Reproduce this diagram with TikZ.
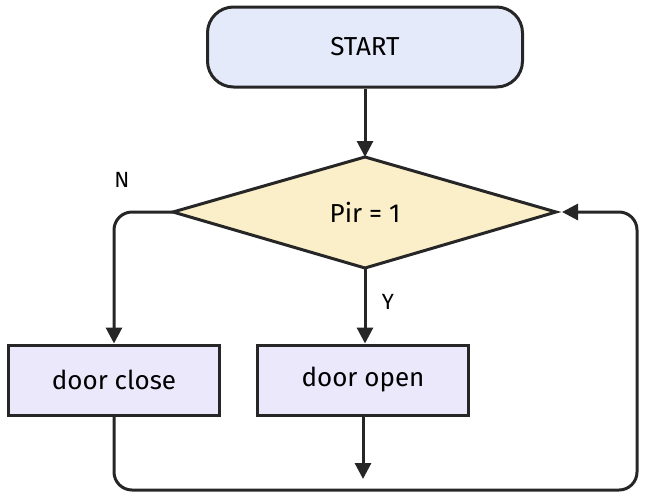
\documentclass[tikz,border=0pt]{standalone}
\usepackage{fontspec}
\setmainfont{Fira Sans}
\usetikzlibrary{shapes.geometric,arrows.meta}
\definecolor{startfill}{HTML}{E5EAFB}
\definecolor{decfill}{HTML}{FBEFC9}
\definecolor{boxfill}{HTML}{ECE8FC}
\begin{document}
\begin{tikzpicture}[x=1pt,y=-1pt,
  base/.style={draw=black!85,line width=3pt,font=\fontsize{26}{30}\selectfont,inner sep=0pt},
  term/.style={base,fill=startfill,rounded corners=26pt,minimum width=315pt,minimum height=80pt},
  proc/.style={base,fill=boxfill,minimum width=211pt,minimum height=70pt},
  conn/.style={draw=black!85,line width=3pt,rounded corners=18pt},
  arr/.style={conn,-{Triangle[length=16pt,width=16pt]}},
  lbl/.style={font=\fontsize{22}{26}\selectfont}]
\useasboundingbox (0,0) rectangle (647,496);
\node[term] (start) at (365,47) {START};
\coordinate (dl) at (173,212); \coordinate (dt) at (365,157);
\coordinate (dr) at (556,212); \coordinate (db) at (365,268);
\coordinate (drr) at (562,212);
\draw[base,fill=decfill] (dl) -- (dt) -- (dr) -- (db) -- cycle;
\node[font=\fontsize{26}{30}\selectfont] (dec) at (365,212) {Pir = 1};
\node[proc] (close) at (114,380) {door close};
\node[proc] (open) at (363,380) {door open};
\coordinate (jend) at (363,479);
\coordinate (br) at (637,490);
\draw[arr] (start.south) -- (dt);
\draw[arr] (db) -- node[lbl,right=12pt,pos=0.45]{Y} (db |- open.north);
\draw[arr] (dl) -| (close.north);
\node[lbl] (n) at (122,180) {N};
\draw[arr] (open.south) -- (jend);
\draw[arr] (close.south) |- (br) |- (drr);
\end{tikzpicture}
\end{document}
